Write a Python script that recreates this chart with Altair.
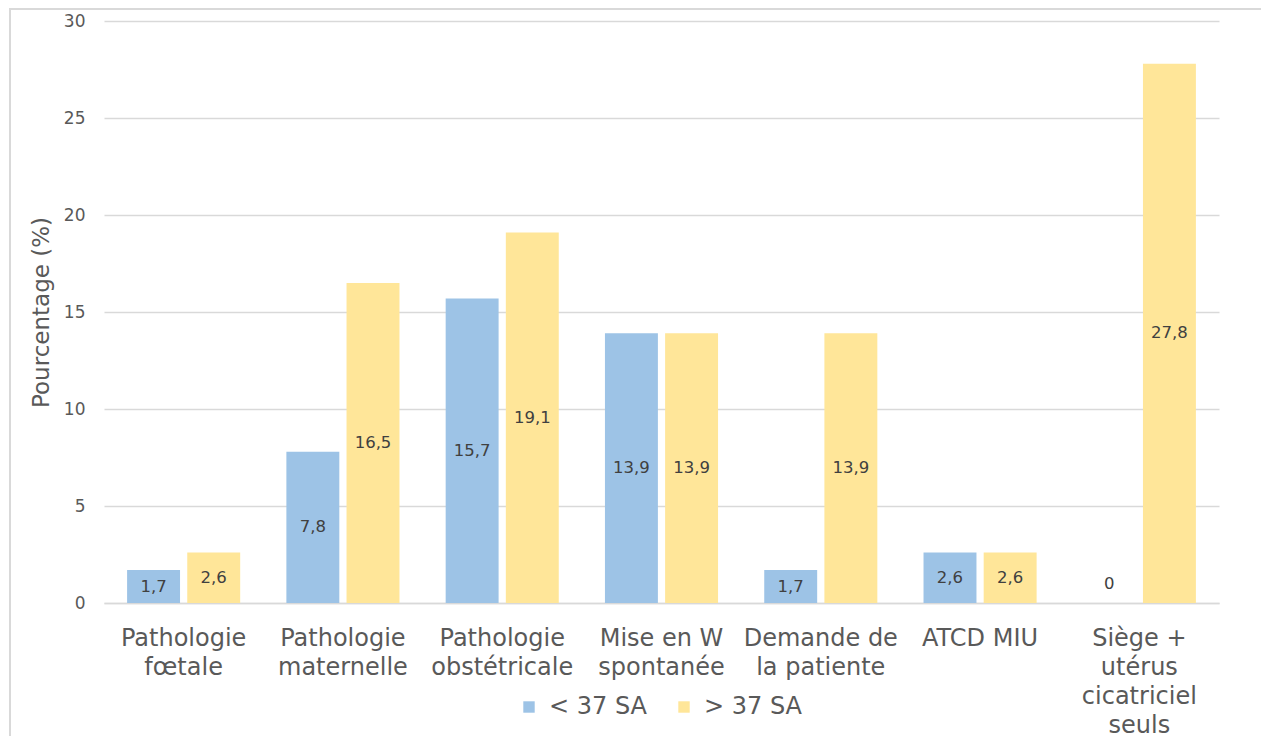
import altair as alt
import pandas as pd

categories = [
    "Pathologie\nfœtale",
    "Pathologie\nmaternelle",
    "Pathologie\nobstétricale",
    "Mise en W\nspontanée",
    "Demande de\nla patiente",
    "ATCD MIU",
    "Siège +\nutérus\ncicatriciel\nseuls",
]
series = ["< 37 SA", "> 37 SA"]
under_37 = [1.7, 7.8, 15.7, 13.9, 1.7, 2.6, 0]
over_37 = [2.6, 16.5, 19.1, 13.9, 13.9, 2.6, 27.8]
y_ticks = [0, 5, 10, 15, 20, 25, 30]
colors = ["#9DC3E6", "#FFE699"]

rows = []
for c, a, b in zip(categories, under_37, over_37):
    rows.append({"cat": c, "serie": series[0], "value": a})
    rows.append({"cat": c, "serie": series[1], "value": b})
df = pd.DataFrame(rows)

W, H = 1115, 582
FONT = "DejaVu Sans"
GRID = "#D9D9D9"
TXT = "#595959"

x_enc = alt.X(
    "cat:N",
    sort=categories,
    scale=alt.Scale(paddingInner=0.29, paddingOuter=0.145),
    axis=alt.Axis(
        title=None,
        labelAngle=0,
        labelExpr="split(datum.label, '\\n')",
        labelFont=FONT,
        labelFontSize=24,
        labelLineHeight=29,
        labelColor=TXT,
        labelPadding=23,
        labelOverlap=False,
        labelLimit=400,
        ticks=False,
        domainColor=GRID,
        domainWidth=1.5,
    ),
)
xo_enc = alt.XOffset(
    "serie:N", sort=series, scale=alt.Scale(paddingInner=0.12, paddingOuter=0)
)

y_scale = alt.Scale(domain=[0, 30], nice=False)
y_axis = alt.Axis(
    values=y_ticks,
    title="Pourcentage (%)",
    titleFont=FONT,
    titleFontSize=23,
    titleFontWeight="normal",
    titleColor=TXT,
    titlePadding=10,
    labelFont=FONT,
    labelFontSize=17,
    labelColor=TXT,
    labelPadding=19,
    ticks=False,
    domain=False,
    gridColor=GRID,
    gridWidth=1.5,
)

base = alt.Chart(df)

bars = base.mark_bar(strokeWidth=0).encode(
    x=x_enc,
    xOffset=xo_enc,
    y=alt.Y("value:Q", scale=y_scale, axis=y_axis),
    color=alt.Color(
        "serie:N",
        sort=series,
        scale=alt.Scale(domain=series, range=colors),
        legend=alt.Legend(
            title=None,
            orient="none",
            legendX=413,
            legendY=674,
            direction="horizontal",
            symbolType="square",
            symbolSize=130,
            symbolStrokeWidth=0,
            labelFont=FONT,
            labelFontSize=24,
            labelColor=TXT,
            labelOffset=8,
            columnPadding=24,
            padding=0,
        ),
    ),
)

texts = base.transform_calculate(
    ypos="datum.value > 0 ? datum.value / 2 : 1",
    lab="datum.value == 0 ? '0' : replace(format(datum.value, '.1f'), '.', ',')",
).mark_text(font=FONT, fontSize=16.5, color="#404040").encode(
    x=x_enc,
    xOffset=xo_enc,
    y=alt.Y("ypos:Q", scale=y_scale, axis=y_axis),
    text="lab:N",
)

frame_df = pd.DataFrame({"f": [0]})
frame_left = alt.Chart(frame_df).mark_rule(stroke=GRID, strokeWidth=2).encode(
    x=alt.value(-94),
    y=alt.value(-13),
    y2=alt.value(H + 300),
)
frame_top = alt.Chart(frame_df).mark_rule(stroke=GRID, strokeWidth=2).encode(
    x=alt.value(-95),
    x2=alt.value(W + 42),
    y=alt.value(-12),
)

chart = (
    alt.layer(frame_left, frame_top, bars, texts)
    .properties(
        width=W,
        height=H,
        autosize=alt.AutoSizeParams(type="none"),
        padding={"left": 96, "top": 13, "right": 43, "bottom": 140},
        background="white",
    )
    .configure_view(strokeWidth=0)
)

chart.save("out.html", embed_options={"renderer": "svg", "actions": False})
